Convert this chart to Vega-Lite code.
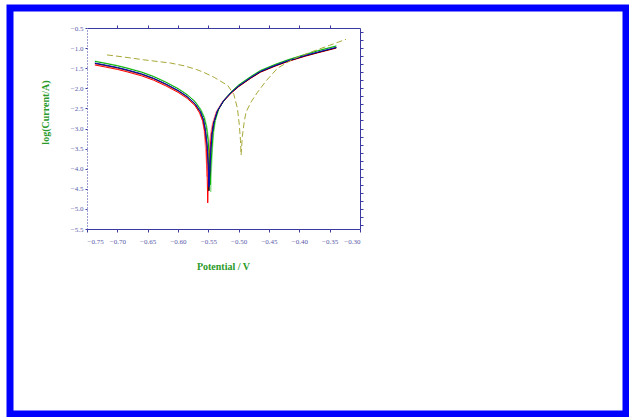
{
  "$schema": "https://vega.github.io/schema/vega-lite/v6.json",
  "autosize": "none",
  "width": 616,
  "height": 406,
  "padding": {"left": 10, "top": 8, "right": 3, "bottom": 3},
  "background": "white",
  "config": {
    "view": {"stroke": "#0000ff", "strokeWidth": 7, "fill": "white"},
    "font": "Liberation Serif",
    "axis": {"grid": false, "domainColor": "#3a3aa0", "tickColor": "#3a3aa0", "labelColor": "#5a5aa8", "labelFont": "Liberation Serif", "labelFontSize": 7, "titleFont": "Liberation Serif", "titleColor": "#2a9a2a", "titleFontSize": 10, "titleFontWeight": "bold"}
  },
  "datasets": {
    "curves": [
      {"s":"P","i":1,"x":-0.737,"y":-1.40},{"s":"P","i":2,"x":-0.72,"y":-1.45},{"s":"P","i":3,"x":-0.70,"y":-1.51},{"s":"P","i":4,"x":-0.684,"y":-1.57},{"s":"P","i":5,"x":-0.66,"y":-1.67},{"s":"P","i":6,"x":-0.64,"y":-1.78},{"s":"P","i":7,"x":-0.62,"y":-1.92},{"s":"P","i":8,"x":-0.60,"y":-2.08},{"s":"P","i":9,"x":-0.585,"y":-2.23},{"s":"P","i":10,"x":-0.572,"y":-2.41},{"s":"P","i":11,"x":-0.565,"y":-2.60},{"s":"P","i":12,"x":-0.560,"y":-2.80},{"s":"P","i":13,"x":-0.557,"y":-3.05},{"s":"P","i":14,"x":-0.555,"y":-3.45},{"s":"P","i":15,"x":-0.553,"y":-3.90},{"s":"P","i":16,"x":-0.552,"y":-4.20},{"s":"P","i":17,"x":-0.551,"y":-3.90},{"s":"P","i":18,"x":-0.549,"y":-3.45},{"s":"P","i":19,"x":-0.546,"y":-3.10},{"s":"P","i":20,"x":-0.543,"y":-2.86},{"s":"P","i":21,"x":-0.537,"y":-2.58},{"s":"P","i":22,"x":-0.527,"y":-2.33},{"s":"P","i":23,"x":-0.514,"y":-2.12},{"s":"P","i":24,"x":-0.50,"y":-1.95},{"s":"P","i":25,"x":-0.48,"y":-1.74},{"s":"P","i":26,"x":-0.464,"y":-1.59},{"s":"P","i":27,"x":-0.44,"y":-1.44},{"s":"P","i":28,"x":-0.42,"y":-1.33},{"s":"P","i":29,"x":-0.392,"y":-1.20},{"s":"P","i":30,"x":-0.37,"y":-1.11},{"s":"P","i":31,"x":-0.339,"y":-0.99},

      {"s":"L","i":1,"x":-0.737,"y":-1.32},{"s":"L","i":2,"x":-0.72,"y":-1.37},{"s":"L","i":3,"x":-0.70,"y":-1.43},{"s":"L","i":4,"x":-0.684,"y":-1.49},{"s":"L","i":5,"x":-0.66,"y":-1.59},{"s":"L","i":6,"x":-0.64,"y":-1.70},{"s":"L","i":7,"x":-0.62,"y":-1.84},{"s":"L","i":8,"x":-0.60,"y":-2.00},{"s":"L","i":9,"x":-0.585,"y":-2.15},{"s":"L","i":10,"x":-0.572,"y":-2.32},{"s":"L","i":11,"x":-0.562,"y":-2.52},{"s":"L","i":12,"x":-0.556,"y":-2.72},{"s":"L","i":13,"x":-0.552,"y":-2.97},{"s":"L","i":14,"x":-0.549,"y":-3.35},{"s":"L","i":15,"x":-0.547,"y":-3.90},{"s":"L","i":16,"x":-0.546,"y":-4.58},{"s":"L","i":17,"x":-0.545,"y":-4.10},{"s":"L","i":18,"x":-0.543,"y":-3.50},{"s":"L","i":19,"x":-0.541,"y":-3.10},{"s":"L","i":20,"x":-0.538,"y":-2.80},{"s":"L","i":21,"x":-0.532,"y":-2.50},{"s":"L","i":22,"x":-0.522,"y":-2.26},{"s":"L","i":23,"x":-0.510,"y":-2.06},{"s":"L","i":24,"x":-0.50,"y":-1.91},{"s":"L","i":25,"x":-0.48,"y":-1.70},{"s":"L","i":26,"x":-0.464,"y":-1.55},{"s":"L","i":27,"x":-0.44,"y":-1.40},{"s":"L","i":28,"x":-0.42,"y":-1.29},{"s":"L","i":29,"x":-0.392,"y":-1.16},{"s":"L","i":30,"x":-0.37,"y":-1.06},{"s":"L","i":31,"x":-0.339,"y":-0.94},

      {"s":"R","i":1,"x":-0.737,"y":-1.42},{"s":"R","i":2,"x":-0.72,"y":-1.47},{"s":"R","i":3,"x":-0.70,"y":-1.53},{"s":"R","i":4,"x":-0.684,"y":-1.59},{"s":"R","i":5,"x":-0.66,"y":-1.69},{"s":"R","i":6,"x":-0.64,"y":-1.80},{"s":"R","i":7,"x":-0.62,"y":-1.94},{"s":"R","i":8,"x":-0.60,"y":-2.10},{"s":"R","i":9,"x":-0.585,"y":-2.25},{"s":"R","i":10,"x":-0.572,"y":-2.43},{"s":"R","i":11,"x":-0.564,"y":-2.62},{"s":"R","i":12,"x":-0.559,"y":-2.82},{"s":"R","i":13,"x":-0.556,"y":-3.08},{"s":"R","i":14,"x":-0.553,"y":-3.50},{"s":"R","i":15,"x":-0.552,"y":-4.10},{"s":"R","i":16,"x":-0.551,"y":-4.85},{"s":"R","i":17,"x":-0.550,"y":-4.30},{"s":"R","i":18,"x":-0.548,"y":-3.60},{"s":"R","i":19,"x":-0.545,"y":-3.15},{"s":"R","i":20,"x":-0.542,"y":-2.88},{"s":"R","i":21,"x":-0.536,"y":-2.59},{"s":"R","i":22,"x":-0.526,"y":-2.34},{"s":"R","i":23,"x":-0.513,"y":-2.13},{"s":"R","i":24,"x":-0.50,"y":-1.96},{"s":"R","i":25,"x":-0.48,"y":-1.75},{"s":"R","i":26,"x":-0.464,"y":-1.60},{"s":"R","i":27,"x":-0.44,"y":-1.45},{"s":"R","i":28,"x":-0.42,"y":-1.34},{"s":"R","i":29,"x":-0.392,"y":-1.21},{"s":"R","i":30,"x":-0.37,"y":-1.12},{"s":"R","i":31,"x":-0.339,"y":-1.00},

      {"s":"G","i":1,"x":-0.737,"y":-1.33},{"s":"G","i":2,"x":-0.72,"y":-1.38},{"s":"G","i":3,"x":-0.70,"y":-1.44},{"s":"G","i":4,"x":-0.684,"y":-1.50},{"s":"G","i":5,"x":-0.66,"y":-1.60},{"s":"G","i":6,"x":-0.64,"y":-1.71},{"s":"G","i":7,"x":-0.62,"y":-1.85},{"s":"G","i":8,"x":-0.60,"y":-2.01},{"s":"G","i":9,"x":-0.585,"y":-2.16},{"s":"G","i":10,"x":-0.572,"y":-2.33},{"s":"G","i":11,"x":-0.563,"y":-2.53},{"s":"G","i":12,"x":-0.557,"y":-2.73},{"s":"G","i":13,"x":-0.553,"y":-2.98},{"s":"G","i":14,"x":-0.550,"y":-3.35},{"s":"G","i":15,"x":-0.548,"y":-3.85},{"s":"G","i":16,"x":-0.547,"y":-4.40},{"s":"G","i":17,"x":-0.546,"y":-4.00},{"s":"G","i":18,"x":-0.544,"y":-3.50},{"s":"G","i":19,"x":-0.542,"y":-3.10},{"s":"G","i":20,"x":-0.539,"y":-2.80},{"s":"G","i":21,"x":-0.533,"y":-2.51},{"s":"G","i":22,"x":-0.523,"y":-2.27},{"s":"G","i":23,"x":-0.511,"y":-2.07},{"s":"G","i":24,"x":-0.50,"y":-1.92},{"s":"G","i":25,"x":-0.48,"y":-1.71},{"s":"G","i":26,"x":-0.464,"y":-1.56},{"s":"G","i":27,"x":-0.44,"y":-1.41},{"s":"G","i":28,"x":-0.42,"y":-1.30},{"s":"G","i":29,"x":-0.392,"y":-1.17},{"s":"G","i":30,"x":-0.37,"y":-1.07},{"s":"G","i":31,"x":-0.339,"y":-0.95},

      {"s":"K","i":1,"x":-0.737,"y":-1.38},{"s":"K","i":2,"x":-0.72,"y":-1.43},{"s":"K","i":3,"x":-0.70,"y":-1.49},{"s":"K","i":4,"x":-0.684,"y":-1.55},{"s":"K","i":5,"x":-0.66,"y":-1.65},{"s":"K","i":6,"x":-0.64,"y":-1.76},{"s":"K","i":7,"x":-0.62,"y":-1.90},{"s":"K","i":8,"x":-0.60,"y":-2.06},{"s":"K","i":9,"x":-0.585,"y":-2.21},{"s":"K","i":10,"x":-0.572,"y":-2.39},{"s":"K","i":11,"x":-0.563,"y":-2.59},{"s":"K","i":12,"x":-0.558,"y":-2.79},{"s":"K","i":13,"x":-0.555,"y":-3.03},{"s":"K","i":14,"x":-0.552,"y":-3.42},{"s":"K","i":15,"x":-0.550,"y":-3.95},{"s":"K","i":16,"x":-0.549,"y":-4.55},{"s":"K","i":17,"x":-0.548,"y":-4.20},{"s":"K","i":18,"x":-0.546,"y":-3.56},{"s":"K","i":19,"x":-0.544,"y":-3.16},{"s":"K","i":20,"x":-0.541,"y":-2.86},{"s":"K","i":21,"x":-0.535,"y":-2.57},{"s":"K","i":22,"x":-0.525,"y":-2.32},{"s":"K","i":23,"x":-0.513,"y":-2.12},{"s":"K","i":24,"x":-0.50,"y":-1.95},{"s":"K","i":25,"x":-0.48,"y":-1.74},{"s":"K","i":26,"x":-0.464,"y":-1.59},{"s":"K","i":27,"x":-0.44,"y":-1.44},{"s":"K","i":28,"x":-0.42,"y":-1.33},{"s":"K","i":29,"x":-0.392,"y":-1.20},{"s":"K","i":30,"x":-0.37,"y":-1.11},{"s":"K","i":31,"x":-0.339,"y":-0.99},

      {"s":"B","i":1,"x":-0.737,"y":-1.37},{"s":"B","i":2,"x":-0.72,"y":-1.42},{"s":"B","i":3,"x":-0.70,"y":-1.48},{"s":"B","i":4,"x":-0.684,"y":-1.54},{"s":"B","i":5,"x":-0.66,"y":-1.64},{"s":"B","i":6,"x":-0.64,"y":-1.75},{"s":"B","i":7,"x":-0.62,"y":-1.89},{"s":"B","i":8,"x":-0.60,"y":-2.05},{"s":"B","i":9,"x":-0.585,"y":-2.20},{"s":"B","i":10,"x":-0.572,"y":-2.38},{"s":"B","i":11,"x":-0.563,"y":-2.58},{"s":"B","i":12,"x":-0.558,"y":-2.78},{"s":"B","i":13,"x":-0.555,"y":-3.02},{"s":"B","i":14,"x":-0.552,"y":-3.40},{"s":"B","i":15,"x":-0.550,"y":-3.90},{"s":"B","i":16,"x":-0.549,"y":-4.45},{"s":"B","i":17,"x":-0.548,"y":-4.20},{"s":"B","i":18,"x":-0.546,"y":-3.55},{"s":"B","i":19,"x":-0.544,"y":-3.15},{"s":"B","i":20,"x":-0.541,"y":-2.85},{"s":"B","i":21,"x":-0.535,"y":-2.56},{"s":"B","i":22,"x":-0.525,"y":-2.31},{"s":"B","i":23,"x":-0.513,"y":-2.11},{"s":"B","i":24,"x":-0.50,"y":-1.94},{"s":"B","i":25,"x":-0.48,"y":-1.73},{"s":"B","i":26,"x":-0.464,"y":-1.58},{"s":"B","i":27,"x":-0.44,"y":-1.43},{"s":"B","i":28,"x":-0.42,"y":-1.32},{"s":"B","i":29,"x":-0.392,"y":-1.19},{"s":"B","i":30,"x":-0.37,"y":-1.10},{"s":"B","i":31,"x":-0.339,"y":-0.98}
    ],
    "dashed": [
      {"s":"D","i":1,"x":-0.717,"y":-1.17},{"s":"D","i":2,"x":-0.69,"y":-1.22},{"s":"D","i":3,"x":-0.657,"y":-1.29},{"s":"D","i":4,"x":-0.63,"y":-1.34},{"s":"D","i":5,"x":-0.613,"y":-1.37},{"s":"D","i":6,"x":-0.59,"y":-1.44},{"s":"D","i":7,"x":-0.57,"y":-1.53},{"s":"D","i":8,"x":-0.558,"y":-1.60},{"s":"D","i":9,"x":-0.54,"y":-1.73},{"s":"D","i":10,"x":-0.518,"y":-1.93},{"s":"D","i":11,"x":-0.508,"y":-2.15},{"s":"D","i":12,"x":-0.502,"y":-2.50},{"s":"D","i":13,"x":-0.499,"y":-2.90},{"s":"D","i":14,"x":-0.497,"y":-3.30},{"s":"D","i":15,"x":-0.496,"y":-3.66},{"s":"D","i":16,"x":-0.494,"y":-3.20},{"s":"D","i":17,"x":-0.491,"y":-2.85},{"s":"D","i":18,"x":-0.488,"y":-2.60},{"s":"D","i":19,"x":-0.48,"y":-2.35},{"s":"D","i":20,"x":-0.469,"y":-2.10},{"s":"D","i":21,"x":-0.455,"y":-1.82},{"s":"D","i":22,"x":-0.436,"y":-1.50},{"s":"D","i":23,"x":-0.41,"y":-1.27},{"s":"D","i":24,"x":-0.381,"y":-1.10},{"s":"D","i":25,"x":-0.35,"y":-0.93},{"s":"D","i":26,"x":-0.323,"y":-0.78}
    ]
  },
  "resolve": {"axis": {"x": "independent", "y": "independent"}},
  "layer": [
    {
      "data": {"name": "curves"},
      "mark": {"type": "line", "strokeWidth": 1},
      "encoding": {
        "x": {"field": "x", "type": "quantitative",
              "scale": {"domain": [-0.75, -0.30], "range": [77, 350], "nice": false, "zero": false},
              "axis": {"orient": "bottom", "offset": -185, "values": [-0.75,-0.70,-0.65,-0.60,-0.55,-0.50,-0.45,-0.40,-0.35,-0.30], "format": ".2f", "tickSize": 3, "labelPadding": 5, "title": "Potential / V", "titleX": 213, "titleY": 37, "titleBaseline": "middle"}},
        "y": {"field": "y", "type": "quantitative",
              "scale": {"domain": [-5.5, -0.5], "range": [221, 20], "nice": false, "zero": false},
              "axis": {"orient": "left", "offset": -77, "values": [-5.5,-5.0,-4.5,-4.0,-3.5,-3.0,-2.5,-2.0,-1.5,-1.0,-0.5], "format": ".1f", "tickSize": 2, "labelPadding": 2, "domainDash": [1, 2], "title": "log(Current/A)", "titleX": -42, "titleY": 104, "titleAngle": -90, "titleBaseline": "middle"}},
        "color": {"field": "s", "type": "nominal", "legend": null,
                  "scale": {"domain": ["P","L","R","G","K","B","D"], "range": ["#ff8c8c","#8ce08c","#ff0000","#00b000","#000000","#1010c0","#a8a838"]}},
        "order": {"field": "i", "type": "quantitative"}
      }
    },
    {
      "data": {"name": "dashed"},
      "mark": {"type": "line", "strokeWidth": 1, "strokeDash": [6, 3]},
      "encoding": {
        "x": {"field": "x", "type": "quantitative",
              "scale": {"domain": [-0.75, -0.30], "range": [77, 350], "nice": false, "zero": false},
              "axis": {"orient": "top", "offset": -20, "values": [-0.70,-0.65,-0.60,-0.55,-0.50,-0.45,-0.40,-0.35], "labels": false, "tickSize": 3, "title": null}},
        "y": {"field": "y", "type": "quantitative",
              "scale": {"domain": [-5.5, -0.5], "range": [221, 20], "nice": false, "zero": false},
              "axis": {"orient": "right", "offset": -266, "values": [-5.4,-5.2,-5.0,-4.8,-4.6,-4.4,-4.2,-4.0,-3.8,-3.6,-3.4,-3.2,-3.0,-2.8,-2.6,-2.4,-2.2,-2.0,-1.8,-1.6,-1.4,-1.2,-1.0,-0.8,-0.6], "labels": false, "tickSize": 3, "title": null}},
        "color": {"field": "s", "type": "nominal", "legend": null,
                  "scale": {"domain": ["P","L","R","G","K","B","D"], "range": ["#ff8c8c","#8ce08c","#ff0000","#00b000","#000000","#1010c0","#a8a838"]}},
        "order": {"field": "i", "type": "quantitative"}
      }
    }
  ]
}
